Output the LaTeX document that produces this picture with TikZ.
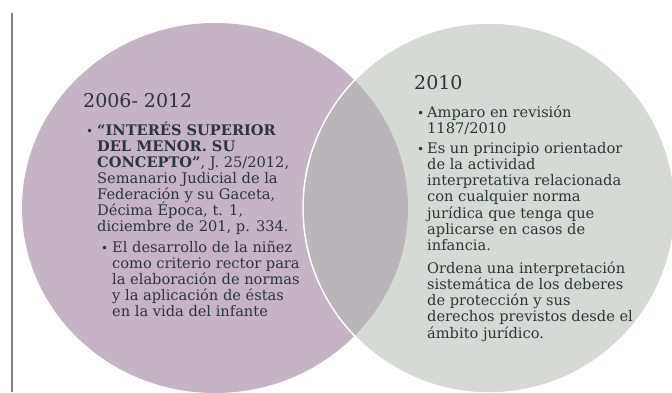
\documentclass[tikz,border=0pt]{standalone}
\usepackage{fontspec}
\setmainfont{DejaVu Serif}
\definecolor{leftfill}{HTML}{C5B4C4}
\definecolor{rightfill}{HTML}{D6DAD5}
\definecolor{lensfill}{HTML}{B9B5B8}
\definecolor{txt}{HTML}{2C3539}
\definecolor{rule}{HTML}{8C7C8C}
\newcommand{\ro}[1]{\hbox{#1}}
\newcommand{\blk}[1]{\vtop{\lineskiplimit=-100pt\relax #1}}
\tikzset{
  body/.style={anchor=base west, inner sep=0pt, text=txt,
    font=\fontsize{14.6}{16}\selectfont},
  bodyr/.style={body, font=\fontsize{14.6}{16.3}\selectfont},
  heading/.style={anchor=base west, inner sep=0pt, text=txt,
    font=\fontsize{19}{21}\selectfont},
  bul/.style={anchor=base west, inner sep=0pt, text=txt,
    font=\fontsize{12}{14}\selectfont}
}
\begin{document}
\begin{tikzpicture}[x=1pt,y=-1pt]
\useasboundingbox (0,0) rectangle (672,392);
\fill[white] (0,0) rectangle (672,392);
\draw[rule, line width=1.2pt] (12,13) -- (12,392);
% circles
\fill[leftfill] (215,208) ellipse [x radius=193pt, y radius=185pt];
\fill[rightfill] (489,208) ellipse [x radius=186pt, y radius=185pt];
\begin{scope}
  \clip (215,208) ellipse [x radius=193pt, y radius=185pt];
  \fill[lensfill] (489,208) ellipse [x radius=186pt, y radius=185pt];
\end{scope}
\draw[white, line width=1.5pt] (489,208) ellipse [x radius=186pt, y radius=185pt];
% left text
\node[heading] (h1) at (83,107) {2006- 2012};
\node[bul] (b1) at (86,135) {•};
\node[body] (t1) at (97,135) {\blk{%
  \ro{\textbf{“INTERÉS SUPERIOR}}
  \ro{\textbf{DEL MENOR. SU}}
  \ro{\textbf{CONCEPTO”}, J. 25/2012,}
  \ro{Semanario Judicial de la}
  \ro{Federación y su Gaceta,}
  \ro{Décima Época, t. 1,}
  \ro{diciembre de 201, p. 334.}}};
\node[bul] (b2) at (101,252) {•};
\node[body] (t2) at (112,252) {\blk{%
  \ro{El desarrollo de la niñez}
  \ro{como criterio rector para}
  \ro{la elaboración de normas}
  \ro{y la aplicación de éstas}
  \ro{en la vida del infante}}};
% right text
\node[heading] (h2) at (414,89) {2010};
\node[bul] (b3) at (417,117) {•};
\node[bodyr] (t3) at (427,117) {\blk{%
  \ro{Amparo en revisión}
  \ro{1187/2010}}};
\node[bul] (b4) at (417,153) {•};
\node[bodyr] (t4) at (427,153) {\blk{%
  \ro{Es un principio orientador}
  \ro{de la actividad}
  \ro{interpretativa relacionada}
  \ro{con cualquier norma}
  \ro{jurídica que tenga que}
  \ro{aplicarse en casos de}
  \ro{infancia.}}};
\node[bodyr] (t5) at (427,273) {\blk{%
  \ro{Ordena una interpretación}
  \ro{sistemática de los deberes}
  \ro{de protección y sus}
  \ro{derechos previstos desde el}
  \ro{ámbito jurídico.}}};
\end{tikzpicture}
\end{document}
